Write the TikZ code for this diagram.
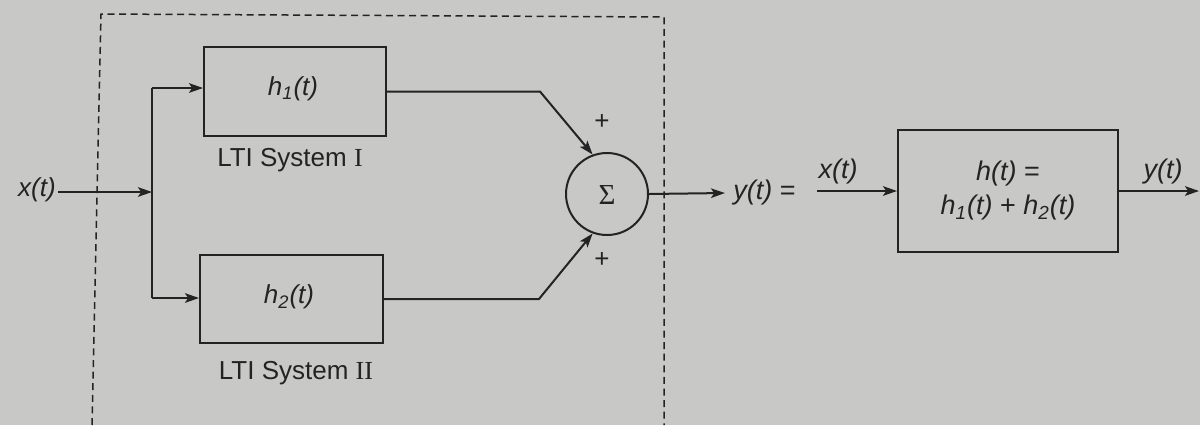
\documentclass[tikz,border=0pt]{standalone}
\usepackage{fontspec}
\setmainfont{Liberation Sans}
\newfontfamily\serifI{Liberation Serif}
\usetikzlibrary{arrows.meta}
\definecolor{paper}{RGB}{200,200,198}
\definecolor{ink}{RGB}{35,35,35}
\begin{document}
\begin{tikzpicture}[x=0.5pt,y=-0.5pt,
  line/.style={draw=ink,line width=1pt},
  arr/.style={line,-{Stealth[length=7pt,width=4.8pt,inset=1.6pt]}},
  blk/.style={draw=ink,line width=1pt,rectangle,inner sep=0pt},
  lbl/.style={text=ink,font=\fontsize{13}{15}\selectfont,inner sep=1pt},
  big/.style={text=ink,font=\fontsize{13.5}{16}\selectfont,inner sep=1pt},
  dashbox/.style={draw=ink,line width=0.75pt,dash pattern=on 3.5pt off 2.3pt}]
\fill[paper] (0,0) rectangle (1200,425);
\useasboundingbox (0,0) rectangle (1200,425);
% dashed enclosure
\draw[dashbox] (92,425) -- (101,14) -- (664,17) -- (664,425);
% blocks
\node[blk,minimum width=91pt,minimum height=44.5pt] (h1) at (295,91.5) {};
\node[lbl] (h1t) at (293,89) {\textit{h\textsubscript{1}(t)}};
\node[blk,minimum width=91.5pt,minimum height=44pt] (h2) at (291.5,299) {};
\node[lbl] (h2t) at (289,297) {\textit{h\textsubscript{2}(t)}};
\node[lbl] (s1) at (290,160) {LTI System {\serifI I}};
\node[lbl] (s2) at (296,373) {LTI System {\serifI II}};
\node[draw=ink,line width=1pt,circle,minimum size=41pt,inner sep=0pt] (sum) at (607,194) {};
\node[text=ink,font=\serifI\fontsize{14.5}{16}\selectfont] (sig) at (607,195) {Σ};
\node[lbl] (p1) at (602,122) {+};
\node[lbl] (p2) at (602,260) {+};
\node[lbl] (xt) at (37,190) {\textit{x(t)}};
\coordinate (j) at (152,192);
\coordinate (jt) at (152,88);
\coordinate (jb) at (152,298);
% input distribution
\draw[arr] (xt.east |- j) -- (j);
\draw[line] (jt) -- (jb);
\draw[arr] (jt) -- (jt -| h1.west);
\draw[arr] (jb) -- (jb -| h2.west);
% to summer
\draw[arr] (h1.east) -- ++(153,0) -- (sum.110);
\draw[arr] (h2.east) -- ++(155,0) -- (sum.250);
% output
\node[big,anchor=west,inner sep=0pt] (yeq) at (733,193) {\textit{y(t)} =};
\draw[arr] (sum.east) -- ([xshift=-4pt]yeq.west);
% equivalent system
\node[blk,minimum width=110pt,minimum height=61pt] (hb) at (1008,191) {};
\node[big,align=center] (hbt) at (1008,191) {\textit{h(t)} =\\[1pt]\textit{h\textsubscript{1}(t)} + \textit{h\textsubscript{2}(t)}};
\node[big] (xin) at (838,172) {\textit{x(t)}};
\node[big] (yout) at (1163,172) {\textit{y(t)}};
\coordinate (xs) at (817,191);
\coordinate (ye) at (1199,191);
\draw[arr] (xs) -- (hb.west);
\draw[arr] (hb.east) -- (ye);
\end{tikzpicture}
\end{document}
